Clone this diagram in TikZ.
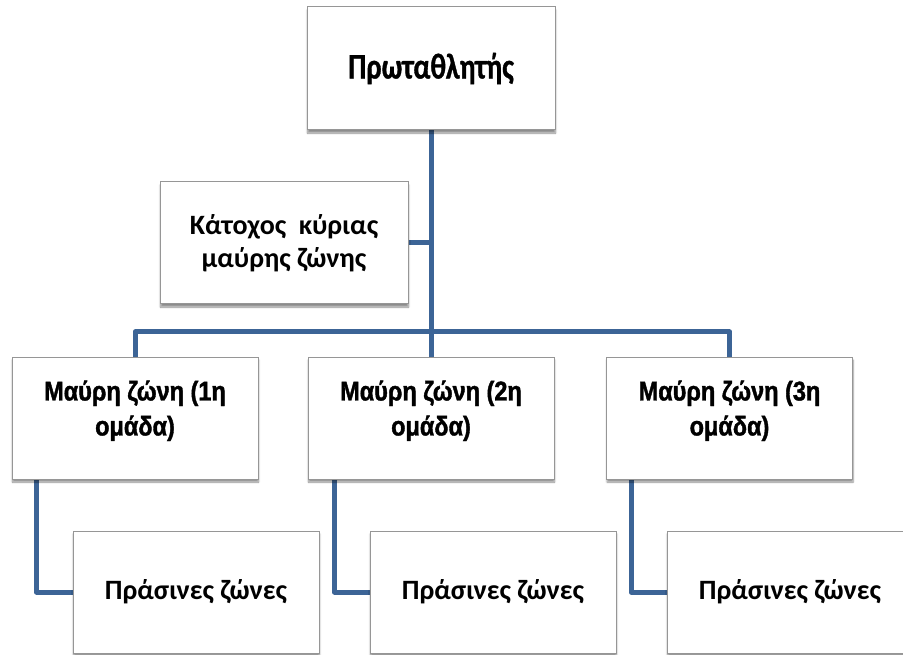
\documentclass[tikz,border=0pt]{standalone}
\usepackage{fontspec}
\setmainfont{Carlito}
\newfontfamily\titlefont[FakeStretch=0.8, FakeBold=0.9]{Carlito Bold}
\newfontfamily\labelfont{Carlito Bold}
\newfontfamily\arialfont[FakeStretch=0.87, FakeBold=1.4]{Liberation Sans Bold}
\usetikzlibrary{shadows.blur,backgrounds}
\definecolor{linkblue}{RGB}{60,100,150}
\definecolor{boxgray}{RGB}{150,150,150}
\tikzset{
  orgbox/.style={draw=boxgray, line width=1pt, fill=white, minimum width=246pt,
    minimum height=122pt, align=center, inner sep=0pt,
    blur shadow={shadow xshift=0.5pt, shadow yshift=-3pt, shadow blur steps=6, shadow opacity=45}},
  topfont/.style={font=\titlefont\fontsize{36}{40}\selectfont},
  holderfont/.style={font=\labelfont\fontsize{28}{33}\selectfont},
  blackfont/.style={font=\arialfont\fontsize{27}{35}\selectfont, text depth=20pt},
  greenfont/.style={font=\labelfont\fontsize{28}{32}\selectfont},
  link/.style={draw=linkblue, line width=5pt, line join=round}
}
\begin{document}
\begin{tikzpicture}[x=1pt,y=-1pt]
\useasboundingbox (0,0) rectangle (903,655);
% boxes
\node[orgbox, topfont, minimum width=248pt, minimum height=123pt] (champ) at (431,68.5)
  {Πρωταθλητής};
\node[orgbox, holderfont, minimum width=248pt] (holder) at (284,243)
  {Κάτοχος\ \ κύριας\\μαύρης ζώνης};
\node[orgbox, blackfont] (blackA) at (135,418) {Μαύρη ζώνη (1η\\ομάδα)};
\node[orgbox, blackfont] (blackB) at (431,418) {Μαύρη ζώνη (2η\\ομάδα)};
\node[orgbox, blackfont] (blackC) at (729.5,418) {Μαύρη ζώνη (3η\\ομάδα)};
\node[orgbox, greenfont] (greenA) at (196,592) {Πράσινες ζώνες};
\node[orgbox, greenfont] (greenB) at (493,592) {Πράσινες ζώνες};
\node[orgbox, greenfont] (greenC) at (790,592) {Πράσινες ζώνες};
% connectors
\begin{scope}[on background layer]
\coordinate (bus) at (431,332);
\draw[link] (champ.south) -- (bus);
\draw[link] (holder.east) -- (holder.east -| bus);
\draw[link] (blackA.north) |- (bus) -| (blackC.north);
\draw[link] (bus) -- (blackB.north);
\draw[link] ([xshift=25pt]blackA.south west) |- (greenA.west);
\draw[link] ([xshift=27pt]blackB.south west) |- (greenB.west);
\draw[link] ([xshift=25pt]blackC.south west) |- (greenC.west);
\end{scope}
\end{tikzpicture}
\end{document}
